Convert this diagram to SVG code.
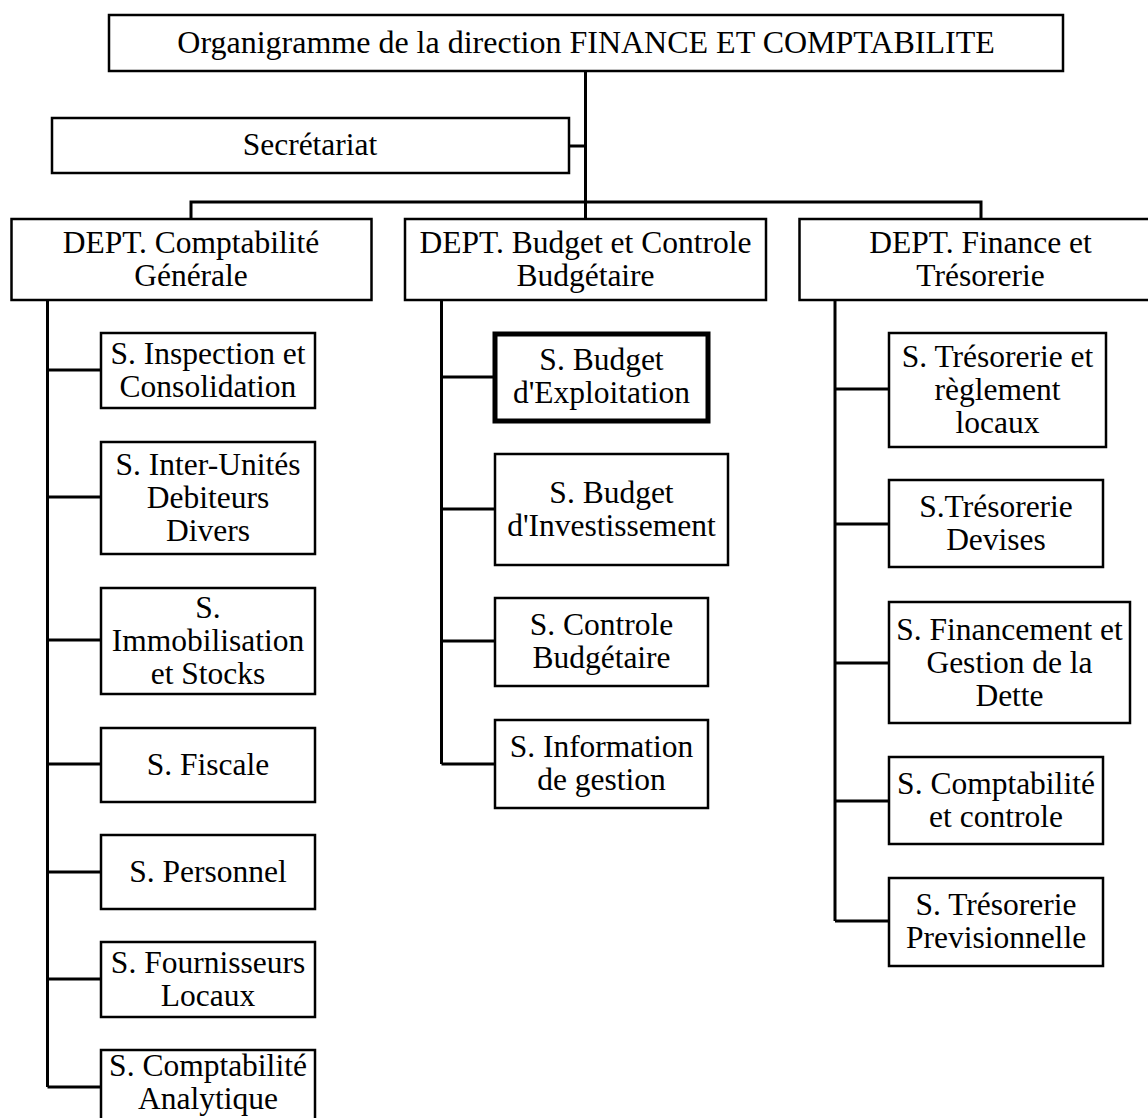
<svg xmlns="http://www.w3.org/2000/svg" width="1148" height="1118" viewBox="0 0 1148 1118" font-family="'Liberation Serif', 'DejaVu Serif', serif">
<style>
.box{fill:#fff;stroke:#000;stroke-width:2.5}
.thick{fill:#fff;stroke:#000;stroke-width:5}
.ln{fill:none;stroke:#000;stroke-width:3}
text{font-family:'Liberation Serif','DejaVu Serif',serif;font-size:31.5px;text-anchor:middle;fill:#000}
</style>
<rect width="1148" height="1118" fill="#fff"/>
<g id="connectors">
<path class="ln" d="M585.5 71V219M569 146H585.5M191 219V202H981V219"/>
<path class="ln" d="M47.5 300V1087M47.5 370H101M47.5 497H101M47.5 640H101M47.5 764H101M47.5 872H101M47.5 979H101M47.5 1087H101"/>
<path class="ln" d="M441.5 300V764M441.5 377H495M441.5 509H495M441.5 641H495M441.5 764H495"/>
<path class="ln" d="M835 300V921M835 389H889M835 524H889M835 663H889M835 801H889M835 921H889"/>
</g>
<g id="title"><rect class="box" x="109" y="15" width="954" height="56"/><text x="586" y="53" style="font-size:32px">Organigramme de la direction FINANCE ET COMPTABILITE</text></g>
<g id="secretariat"><rect class="box" x="52" y="118" width="517" height="55"/><text x="310" y="155">Secrétariat</text></g>
<g id="dept-cg"><rect class="box" x="11.5" y="219" width="360" height="81"/><text x="191" y="253">DEPT. Comptabilité</text><text x="191" y="286">Générale</text></g>
<g id="dept-bcb"><rect class="box" x="405" y="219" width="361" height="81"/><text x="585.5" y="253">DEPT. Budget et Controle</text><text x="585.5" y="286">Budgétaire</text></g>
<g id="dept-ft"><rect class="box" x="799.5" y="219" width="362" height="81"/><text x="980.5" y="253">DEPT. Finance et</text><text x="980.5" y="286">Trésorerie</text></g>

<g id="s-inspection"><rect class="box" x="101" y="333" width="214" height="75"/><text x="208" y="364">S. Inspection et</text><text x="208" y="397">Consolidation</text></g>
<g id="s-interunites"><rect class="box" x="101" y="442" width="214" height="112"/><text x="208" y="475">S. Inter-Unités</text><text x="208" y="508">Debiteurs</text><text x="208" y="541">Divers</text></g>
<g id="s-immobilisation"><rect class="box" x="101" y="588" width="214" height="106"/><text x="208" y="618">S.</text><text x="208" y="651">Immobilisation</text><text x="208" y="684">et Stocks</text></g>
<g id="s-fiscale"><rect class="box" x="101" y="728" width="214" height="74"/><text x="208" y="775">S. Fiscale</text></g>
<g id="s-personnel"><rect class="box" x="101" y="835" width="214" height="74"/><text x="208" y="882">S. Personnel</text></g>
<g id="s-fournisseurs"><rect class="box" x="101" y="942" width="214" height="75"/><text x="208" y="973">S. Fournisseurs</text><text x="208" y="1006">Locaux</text></g>
<g id="s-analytique"><rect class="box" x="101" y="1050" width="214" height="75"/><text x="208" y="1076">S. Comptabilité</text><text x="208" y="1109">Analytique</text></g>

<g id="s-exploitation"><rect class="thick" x="495" y="334" width="213" height="87"/><text x="601.5" y="370">S. Budget</text><text x="601.5" y="403">d'Exploitation</text></g>
<g id="s-investissement"><rect class="box" x="495" y="454" width="233" height="111"/><text x="611.5" y="503">S. Budget</text><text x="611.5" y="536">d'Investissement</text></g>
<g id="s-controle"><rect class="box" x="495" y="598" width="213" height="88"/><text x="601.5" y="635">S. Controle</text><text x="601.5" y="668">Budgétaire</text></g>
<g id="s-information"><rect class="box" x="495" y="720" width="213" height="88"/><text x="601.5" y="757">S. Information</text><text x="601.5" y="790">de gestion</text></g>

<g id="s-tresorerie-locaux"><rect class="box" x="889" y="333" width="217" height="114"/><text x="997.5" y="367">S. Trésorerie et</text><text x="997.5" y="400">règlement</text><text x="997.5" y="433">locaux</text></g>
<g id="s-devises"><rect class="box" x="889" y="480" width="214" height="87"/><text x="996" y="517">S.Trésorerie</text><text x="996" y="550">Devises</text></g>
<g id="s-financement"><rect class="box" x="889" y="602" width="241" height="121"/><text x="1009.5" y="640">S. Financement et</text><text x="1009.5" y="673">Gestion de la</text><text x="1009.5" y="706">Dette</text></g>
<g id="s-comptabilite-controle"><rect class="box" x="889" y="757" width="214" height="87"/><text x="996" y="794">S. Comptabilité</text><text x="996" y="827">et controle</text></g>
<g id="s-previsionnelle"><rect class="box" x="889" y="878" width="214" height="88"/><text x="996" y="915">S. Trésorerie</text><text x="996" y="948">Previsionnelle</text></g>
</svg>
